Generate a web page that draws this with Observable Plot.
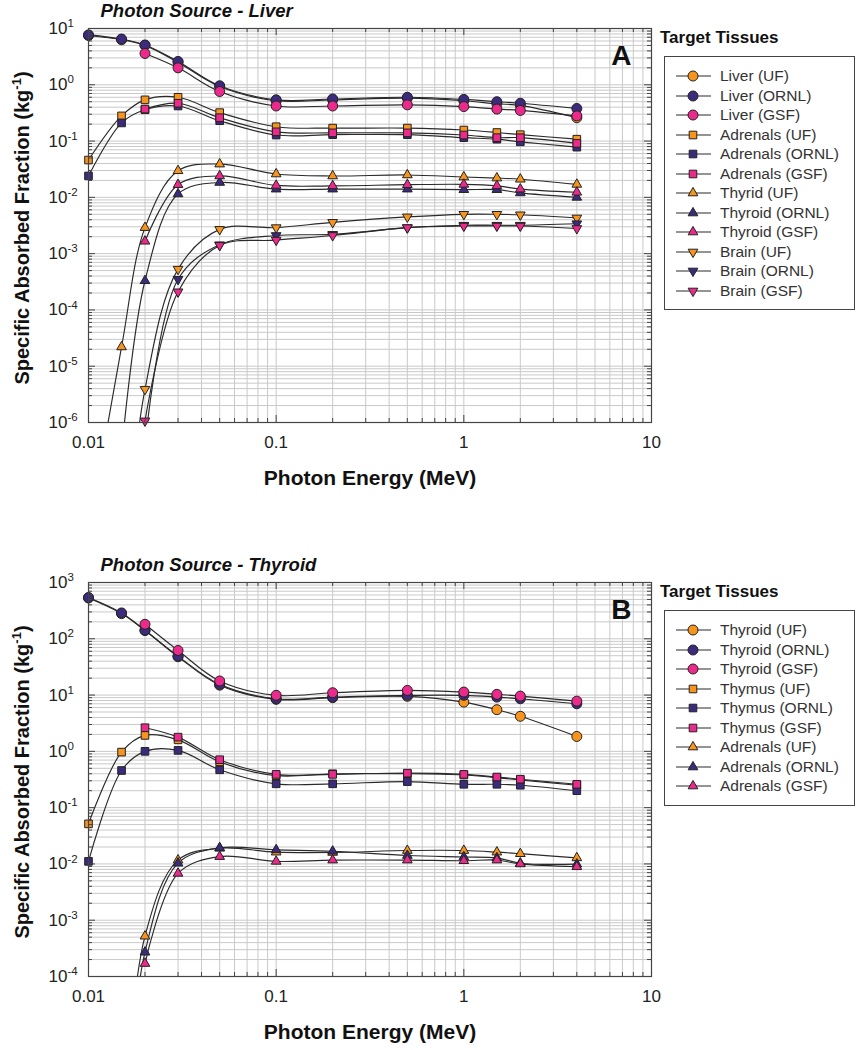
<!DOCTYPE html>
<html><head><meta charset="utf-8">
<script src="https://cdn.jsdelivr.net/npm/d3@7"></script>
<script src="https://cdn.jsdelivr.net/npm/@observablehq/plot@0.6"></script>
<style>
body{margin:0;background:#fff;}
#root{position:relative;width:859px;height:1050px;font-family:"Liberation Sans",Arial,sans-serif;color:#222;overflow:hidden;}
.panel{position:absolute;left:0;}
.ylab{position:absolute;font-weight:bold;font-size:20px;line-height:20px;white-space:nowrap;transform:translate(-50%,-50%) rotate(-90deg);color:#111;}
.ylab sup{font-size:13px;vertical-align:8px;line-height:0;}
.legtitle{position:absolute;font-weight:bold;font-size:17px;line-height:17px;white-space:nowrap;color:#111;}
.legbox{position:absolute;border:1px solid #444;box-sizing:border-box;}
.row{position:absolute;left:0;height:20px;font-size:15.5px;line-height:20px;white-space:nowrap;color:#333;}
.row svg{position:absolute;left:0;top:0;}
.row span{position:absolute;left:55px;top:0;}
</style></head>
<body><div id="root"></div>
<script>
// ---------- data ----------
const energy = [0.01, 0.015, 0.02, 0.03, 0.05, 0.1, 0.2, 0.5, 1, 1.5, 2, 4];
const xTicks = [0.01, 0.1, 1, 10];
const yTicksA = [1e-6, 1e-5, 1e-4, 1e-3, 1e-2, 1e-1, 1, 10];
const yTicksB = [1e-4, 1e-3, 1e-2, 1e-1, 1, 10, 100, 1000];
const labNames = ["UF", "ORNL", "GSF"];
const labColors = ["#F7941D", "#3C2A7D", "#EC2A8C"];

// Panel A: photon source = liver
const liverUF      = [7.5, 6.3, 5.0, 2.5, 0.93, 0.52, 0.54, 0.58, 0.52, 0.46, 0.43, 0.26];
const liverORNL    = [7.7, 6.5, 5.1, 2.6, 0.96, 0.54, 0.56, 0.60, 0.55, 0.50, 0.47, 0.38];
const liverGSF     = [null, null, 3.6, 2.0, 0.76, 0.42, 0.42, 0.44, 0.41, 0.37, 0.35, 0.28];
const adrenalsUF   = [0.046, 0.28, 0.54, 0.60, 0.32, 0.18, 0.17, 0.17, 0.157, 0.142, 0.13, 0.108];
const adrenalsORNL = [0.024, 0.21, 0.36, 0.42, 0.23, 0.128, 0.13, 0.13, 0.115, 0.108, 0.097, 0.078];
const adrenalsGSF  = [null, null, 0.37, 0.47, 0.26, 0.146, 0.14, 0.14, 0.128, 0.115, 0.115, 0.091];
const thyroidUF    = [1e-8, 2.2e-5, 2.9e-3, 0.0297, 0.039, 0.026, 0.024, 0.025, 0.023, 0.022, 0.021, 0.017];
const thyroidORNL  = [null, 3e-7, 3.3e-4, 0.0115, 0.0184, 0.014, 0.014, 0.014, 0.0137, 0.0137, 0.012, 0.010];
const thyroidGSF   = [null, null, 1.66e-3, 0.0168, 0.024, 0.0163, 0.016, 0.0168, 0.017, 0.016, 0.014, 0.0123];
const brainUF      = [null, 1e-9, 3.9e-6, 5.3e-4, 2.7e-3, 2.9e-3, 3.6e-3, 4.5e-3, 5.0e-3, 5.0e-3, 4.9e-3, 4.3e-3];
const brainORNL    = [null, null, 4e-7, 3.5e-4, 1.44e-3, 2.1e-3, 2.2e-3, 2.9e-3, 3.2e-3, 3.2e-3, 3.2e-3, 3.4e-3];
const brainGSF     = [null, null, 1.07e-6, 2.1e-4, 1.4e-3, 1.74e-3, 2.1e-3, 2.9e-3, 3.1e-3, 3.1e-3, 3.1e-3, 2.8e-3];

// Panel B: photon source = thyroid
const thyThyroidUF    = [530, 280, 140, 48, 15, 8.4, 9.0, 9.5, 7.5, 5.5, 4.2, 1.84];
const thyThyroidORNL  = [541, 288, 142, 49, 15.5, 8.6, 9.2, 9.9, 9.9, 9.2, 8.6, 7.0];
const thyThyroidGSF   = [null, null, 181, 62, 17.8, 9.9, 11, 12.1, 11.3, 10.3, 9.6, 7.8];
const thyThymusUF     = [0.0515, 0.97, 1.92, 1.6, 0.65, 0.37, 0.40, 0.40, 0.38, 0.34, 0.31, 0.25];
const thyThymusORNL   = [0.0111, 0.457, 1.0, 1.04, 0.47, 0.265, 0.265, 0.29, 0.26, 0.26, 0.25, 0.20];
const thyThymusGSF    = [null, null, 2.63, 1.79, 0.71, 0.39, 0.39, 0.41, 0.39, 0.35, 0.32, 0.26];
const thyAdrenalsUF   = [null, 1e-7, 5.2e-4, 0.0117, 0.019, 0.0162, 0.016, 0.0173, 0.0173, 0.0162, 0.0152, 0.0128];
const thyAdrenalsORNL = [null, 5e-8, 2.7e-4, 0.0103, 0.0193, 0.0178, 0.0168, 0.0141, 0.0133, 0.0128, 0.0103, 0.0099];
const thyAdrenalsGSF  = [null, null, 1.7e-4, 0.0068, 0.0135, 0.0111, 0.0117, 0.0117, 0.0114, 0.0117, 0.0100, 0.0089];

// ---------- symbols ----------
const sqrt3 = Math.sqrt(3);
const triangleDown = {draw(context, size) {
  const y = -Math.sqrt(size / (sqrt3 * 3));
  context.moveTo(0, -y * 2);
  context.lineTo(-sqrt3 * y, y);
  context.lineTo(sqrt3 * y, y);
  context.closePath();
}};
const shapes = {
  circle:  {symbol: "circle", d3: d3.symbolCircle, r: 5},
  square:  {symbol: "square", d3: d3.symbolSquare, r: 4.3},
  triUp:   {symbol: "triangle", d3: d3.symbolTriangle, r: 3.6},
  triDown: {symbol: triangleDown, d3: triangleDown, r: 3.6}
};

const seriesA = [
  {label: "Liver (UF)", lab: 0, shape: "circle", values: liverUF},
  {label: "Liver (ORNL)", lab: 1, shape: "circle", values: liverORNL},
  {label: "Liver (GSF)", lab: 2, shape: "circle", values: liverGSF},
  {label: "Adrenals (UF)", lab: 0, shape: "square", values: adrenalsUF},
  {label: "Adrenals (ORNL)", lab: 1, shape: "square", values: adrenalsORNL},
  {label: "Adrenals (GSF)", lab: 2, shape: "square", values: adrenalsGSF},
  {label: "Thyrid (UF)", lab: 0, shape: "triUp", values: thyroidUF},
  {label: "Thyroid (ORNL)", lab: 1, shape: "triUp", values: thyroidORNL},
  {label: "Thyroid (GSF)", lab: 2, shape: "triUp", values: thyroidGSF},
  {label: "Brain (UF)", lab: 0, shape: "triDown", values: brainUF},
  {label: "Brain (ORNL)", lab: 1, shape: "triDown", values: brainORNL},
  {label: "Brain (GSF)", lab: 2, shape: "triDown", values: brainGSF}
];
const seriesB = [
  {label: "Thyroid (UF)", lab: 0, shape: "circle", values: thyThyroidUF},
  {label: "Thyroid (ORNL)", lab: 1, shape: "circle", values: thyThyroidORNL},
  {label: "Thyroid (GSF)", lab: 2, shape: "circle", values: thyThyroidGSF},
  {label: "Thymus (UF)", lab: 0, shape: "square", values: thyThymusUF},
  {label: "Thymus (ORNL)", lab: 1, shape: "square", values: thyThymusORNL},
  {label: "Thymus (GSF)", lab: 2, shape: "square", values: thyThymusGSF},
  {label: "Adrenals (UF)", lab: 0, shape: "triUp", values: thyAdrenalsUF},
  {label: "Adrenals (ORNL)", lab: 1, shape: "triUp", values: thyAdrenalsORNL},
  {label: "Adrenals (GSF)", lab: 2, shape: "triUp", values: thyAdrenalsGSF}
];

// ---------- layout ----------
const W = 660, H = 492, mL = 88, mR = 9, mT = 28, mB = 70;
const fw = W - mL - mR, fh = H - mT - mB;
const root = document.getElementById("root");

function minorTicks(lo, hi) {
  const out = [];
  for (let e = Math.round(Math.log10(lo)); e < Math.round(Math.log10(hi)); e++)
    for (let k = 2; k <= 9; k++) out.push(k * Math.pow(10, e));
  return out;
}

function panel(series, yTicks, title, letter, top) {
  const yDomain = [yTicks[0], yTicks[yTicks.length - 1]];
  const xDomain = [xTicks[0], xTicks[xTicks.length - 1]];
  const xMinor = minorTicks(...xDomain), yMinor = minorTicks(...yDomain);
  const marks = [
    Plot.ruleX([...xMinor, ...xTicks], {stroke: "#c9c9c9", strokeWidth: 1}),
    Plot.ruleY([...yMinor, ...yTicks], {stroke: "#c9c9c9", strokeWidth: 1}),
  ];
  for (const s of series) {
    const rows = energy.map((e, i) => ({e, v: s.values[i]})).filter(d => d.v != null);
    marks.push(Plot.line(rows, {x: "e", y: "v", curve: "catmull-rom", stroke: "#2a2a2a", strokeWidth: 1.15, clip: true}));
  }
  for (const s of series) {
    const rows = energy.map((e, i) => ({e, v: s.values[i]}))
      .filter(d => d.v != null && d.v >= yDomain[0] * 0.98 && d.v <= yDomain[1]);
    const sh = shapes[s.shape];
    marks.push(Plot.dot(rows, {x: "e", y: "v", symbol: sh.symbol, r: sh.r, fill: labColors[s.lab], stroke: "#222", strokeWidth: 1, fillOpacity: 1}));
  }
  marks.push(
    Plot.frame({stroke: "#444", strokeWidth: 1.2}),
    Plot.tickX(xTicks, {x: d => d, insetTop: fh - 7, stroke: "#444"}),
    Plot.tickX(xMinor, {x: d => d, insetTop: fh - 4, stroke: "#444"}),
    Plot.tickX(xTicks, {x: d => d, insetBottom: fh - 7, stroke: "#444"}),
    Plot.tickX(xMinor, {x: d => d, insetBottom: fh - 4, stroke: "#444"}),
    Plot.tickY(yTicks, {y: d => d, insetRight: fw - 7, stroke: "#444"}),
    Plot.tickY(yMinor, {y: d => d, insetRight: fw - 4, stroke: "#444"}),
    Plot.tickY(yTicks, {y: d => d, insetLeft: fw - 7, stroke: "#444"}),
    Plot.tickY(yMinor, {y: d => d, insetLeft: fw - 4, stroke: "#444"}),
    Plot.text(xTicks, {x: d => d, frameAnchor: "bottom", lineAnchor: "middle", dy: 20, text: d => d3.format("~g")(d), fontSize: 17, fill: "#222"}),
    Plot.text(yTicks, {y: d => d, frameAnchor: "left", dx: -21, textAnchor: "end", text: () => "10", fontSize: 17, fill: "#222"}),
    Plot.text(yTicks, {y: d => d, frameAnchor: "left", dx: -21, dy: -5, textAnchor: "start", text: d => String(Math.round(Math.log10(d))), fontSize: 11.5, fill: "#222"}),
    Plot.text(["Photon Energy (MeV)"], {frameAnchor: "bottom", lineAnchor: "middle", dy: 56, text: d => d, fontSize: 21, fontWeight: "bold", fill: "#111"}),
    Plot.text([title], {frameAnchor: "top-left", lineAnchor: "middle", dx: 12, dy: -17, textAnchor: "start", text: d => d, fontSize: 18.5, fontWeight: "bold", fontStyle: "italic", fill: "#111"}),
    Plot.text([letter], {frameAnchor: "top-right", lineAnchor: "middle", dx: -20, dy: 28, textAnchor: "end", text: d => d, fontSize: 28, fontWeight: "bold", fill: "#111"})
  );
  const svg = Plot.plot({
    width: W, height: H,
    marginLeft: mL, marginRight: mR, marginTop: mT, marginBottom: mB,
    x: {type: "log", domain: xDomain, axis: null},
    y: {type: "log", domain: yDomain, axis: null},
    style: {fontFamily: "'Liberation Sans', Arial, sans-serif", background: "transparent", overflow: "visible"},
    marks
  });
  svg.classList.add("panel");
  svg.style.top = top + "px";
  root.appendChild(svg);

  const yl = document.createElement("div");
  yl.className = "ylab";
  yl.style.left = "22px";
  yl.style.top = (top + mT + fh / 2 + 3) + "px";
  yl.innerHTML = "Specific Absorbed Fraction (kg<sup>-1</sup>)";
  root.appendChild(yl);

  const lt = document.createElement("div");
  lt.className = "legtitle";
  lt.textContent = "Target Tissues";
  lt.style.left = "660px";
  lt.style.top = (top + 28.5) + "px";
  root.appendChild(lt);
  const box = document.createElement("div");
  box.className = "legbox";
  box.style.left = "664px";
  box.style.width = "191px";
  box.style.top = (top + 56) + "px";
  box.style.height = (series.length * 19.5 + 20) + "px";
  series.forEach((s, i) => {
    const row = document.createElement("div");
    row.className = "row";
    row.style.top = (19 + i * 19.5 - 10) + "px";
    row.style.width = "185px";
    const sv = d3.create("svg").attr("width", 50).attr("height", 20);
    sv.append("line").attr("x1", 11).attr("x2", 46).attr("y1", 10).attr("y2", 10).attr("stroke", "#2a2a2a").attr("stroke-width", 1.1);
    const sh = shapes[s.shape];
    sv.append("path").attr("transform", "translate(28,10)")
      .attr("d", d3.symbol(sh.d3, Math.PI * sh.r * sh.r)())
      .attr("fill", labColors[s.lab]).attr("stroke", "#222").attr("stroke-width", 1);
    row.appendChild(sv.node());
    const sp = document.createElement("span");
    sp.textContent = s.label;
    row.appendChild(sp);
    box.appendChild(row);
  });
  root.appendChild(box);
}

panel(seriesA, yTicksA, "Photon Source - Liver", "A", 0);
panel(seriesB, yTicksB, "Photon Source - Thyroid", "B", 554);
</script>
</body></html>
